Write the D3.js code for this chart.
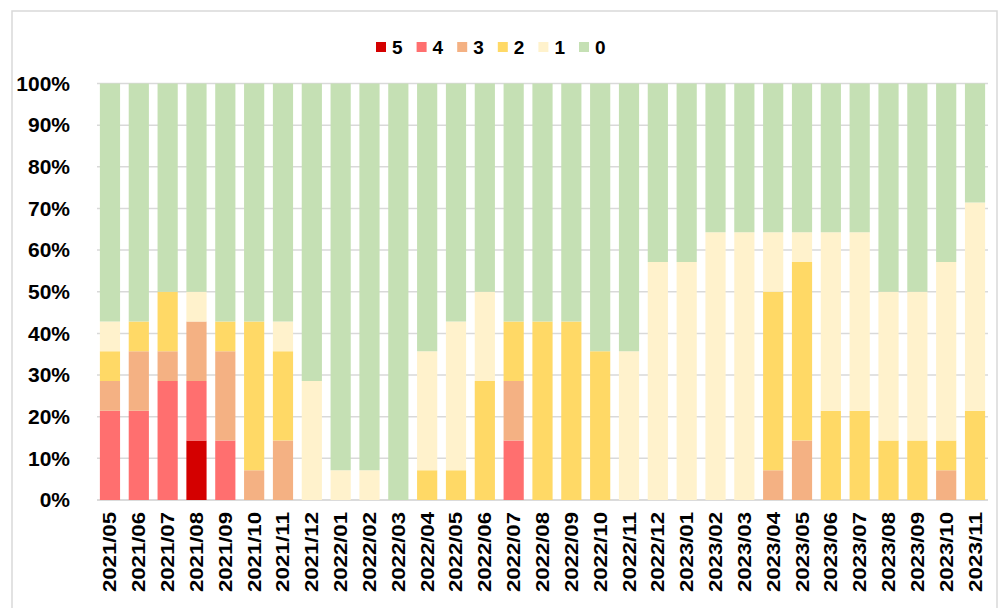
<!DOCTYPE html>
<html>
<head>
<meta charset="utf-8">
<script src="https://cdn.jsdelivr.net/npm/d3@7.9.0/dist/d3.min.js"></script>
<style>
  body { margin: 0; background: #fff; }
  svg { display: block; font-family: "Liberation Sans", Arial, sans-serif; }
</style>
</head>
<body>
<div class="container"></div>
<script>
// months on the x axis
const months = ["2021/05","2021/06","2021/07","2021/08","2021/09","2021/10","2021/11","2021/12",
  "2022/01","2022/02","2022/03","2022/04","2022/05","2022/06","2022/07","2022/08","2022/09",
  "2022/10","2022/11","2022/12","2023/01","2023/02","2023/03","2023/04","2023/05","2023/06",
  "2023/07","2023/08","2023/09","2023/10","2023/11"];

// counts per level (14 per month), stacked bottom to top: 5,4,3,2,1,0
const level5 = [0,0,0,2,0,0,0,0,0,0,0,0,0,0,0,0,0,0,0,0,0,0,0,0,0,0,0,0,0,0,0];
const level4 = [3,3,4,2,2,0,0,0,0,0,0,0,0,0,2,0,0,0,0,0,0,0,0,0,0,0,0,0,0,0,0];
const level3 = [1,2,1,2,3,1,2,0,0,0,0,0,0,0,2,0,0,0,0,0,0,0,0,1,2,0,0,0,0,1,0];
const level2 = [1,1,2,0,1,5,3,0,0,0,0,1,1,4,2,6,6,5,0,0,0,0,0,6,6,3,3,2,2,1,3];
const level1 = [1,0,0,1,0,0,1,4,1,1,0,4,5,3,0,0,0,0,5,8,8,9,9,2,1,6,6,5,5,6,7];
const level0 = [8,8,7,7,8,8,8,10,13,13,14,9,8,7,8,8,8,9,9,6,6,5,5,5,5,5,5,7,7,6,4];

const levels = ["5","4","3","2","1","0"];
const levelColors = ["#d40000","#ff6f6f","#f4b183","#ffd966","#fff2cc","#c5e0b4"];
const yTicks = [0,0.1,0.2,0.3,0.4,0.5,0.6,0.7,0.8,0.9,1];

const width = 1000, height = 608;
const plotLeft = 97, plotRight = 988, plotTop = 83.5, plotBottom = 500;

const svg = d3.select(".container").append("svg")
  .attr("width", width).attr("height", height);

// outer frame
svg.append("rect")
  .attr("x", 12).attr("y", 11)
  .attr("width", 985).attr("height", 640)
  .attr("fill", "none").attr("stroke", "#d9d9d9").attr("stroke-width", 1.5);

const table = months.map((m, i) => ({
  month: m,
  "5": level5[i], "4": level4[i], "3": level3[i],
  "2": level2[i], "1": level1[i], "0": level0[i]
}));

const series = d3.stack().keys(levels).offset(d3.stackOffsetExpand)(table);

const x = d3.scaleBand().domain(months).range([plotLeft, plotRight])
  .paddingInner(0.3).paddingOuter(0.1);
const y = d3.scaleLinear().domain([0, 1]).range([plotBottom, plotTop]);
const color = d3.scaleOrdinal().domain(levels).range(levelColors);

// gridlines
svg.append("g").selectAll("line")
  .data(yTicks)
  .join("line")
  .attr("x1", plotLeft).attr("x2", plotRight)
  .attr("y1", d => y(d)).attr("y2", d => y(d))
  .attr("stroke", d => d === 0 ? "#cfcfcf" : "#d9d9d9")
  .attr("stroke-width", 1.5);

// y labels
const yAxis = svg.append("g")
  .attr("transform", `translate(${plotLeft},0)`)
  .call(d3.axisLeft(y).tickValues(yTicks).tickFormat(d3.format(".0%")).tickSize(0).tickPadding(27));
yAxis.select(".domain").remove();
yAxis.selectAll("text")
  .attr("font-family", "'Liberation Sans', Arial, sans-serif")
  .attr("font-size", 21).attr("font-weight", "bold").attr("fill", "#000");

// bars
svg.append("g").selectAll("g")
  .data(series)
  .join("g")
  .attr("fill", d => color(d.key))
  .selectAll("rect")
  .data(d => d)
  .join("rect")
  .attr("x", d => x(d.data.month))
  .attr("width", x.bandwidth())
  .attr("y", d => y(d[1]))
  .attr("height", d => y(d[0]) - y(d[1]));

// x labels
svg.append("g").selectAll("text")
  .data(months)
  .join("text")
  .attr("transform", d => `translate(${x(d) + x.bandwidth() / 2 + 6.5},${plotBottom + 12}) rotate(-90)`)
  .attr("text-anchor", "end")
  .attr("font-size", 18).attr("font-weight", "bold")
  .attr("textLength", 80).attr("lengthAdjust", "spacingAndGlyphs")
  .text(d => d);

// legend
const legend = svg.append("g").selectAll("g")
  .data(levels)
  .join("g")
  .attr("transform", (d, i) => `translate(${376 + i * 40.6},42)`);
legend.append("rect")
  .attr("width", 10).attr("height", 10)
  .attr("fill", d => color(d));
legend.append("text")
  .attr("x", 16).attr("y", 12)
  .attr("font-size", 19).attr("font-weight", "bold")
  .text(d => d);
</script>
</body>
</html>
